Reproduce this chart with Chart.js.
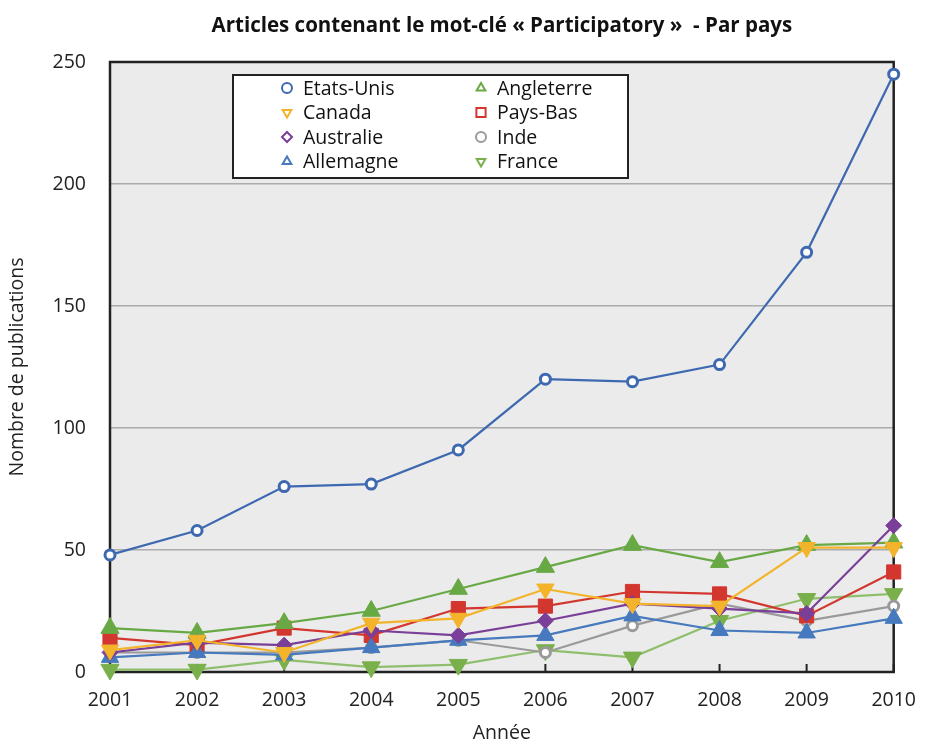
<!DOCTYPE html>
<html>
<head>
<meta charset="utf-8">
<script src="https://cdn.jsdelivr.net/npm/chart.js@4"></script>
<style>
    html, body { margin: 0; padding: 0; background: #fff; }
    #wrap { width: 925px; height: 742px; }
</style>
</head>
<body>
<div id="wrap"><canvas id="participatoryChart"></canvas></div>
<script>
'use strict'

const chartTitle = 'Articles contenant le mot-clé « Participatory »  - Par pays';
const years = ['2001', '2002', '2003', '2004', '2005', '2006', '2007', '2008', '2009', '2010'];
const yTicks = [0, 50, 100, 150, 200, 250];

const etatsUnis  = [48, 58, 76, 77, 91, 120, 119, 126, 172, 245];
const canada     = [9, 13, 8, 20, 22, 34, 28, 27, 51, 51];
const australie  = [8, 12, 11, 17, 15, 21, 28, 26, 24, 60];
const allemagne  = [6, 8, 7, 10, 13, 15, 23, 17, 16, 22];
const angleterre = [18, 16, 20, 25, 34, 43, 52, 45, 52, 53];
const paysBas    = [14, 11, 18, 15, 26, 27, 33, 32, 23, 41];
const inde       = [8, 8, 8, 10, 13, 8, 19, 28, 21, 27];
const france     = [1, 1, 5, 2, 3, 9, 6, 21, 30, 32];

const font = "'Open Sans', 'DejaVu Sans', sans-serif";

const mk = (label, data, color, style, radius, opts) => Object.assign({
    label: label,
    data: data,
    borderColor: color,
    backgroundColor: color,
    borderWidth: 2.2,
    pointStyle: style,
    pointRadius: radius,
    pointBorderWidth: 1,
    pointBackgroundColor: color,
    pointBorderColor: color,
    tension: 0,
    clip: false
}, opts || {});

const datasets = [
    mk('Etats-Unis', etatsUnis, '#3e69b0', 'circle', 5, { pointBackgroundColor: '#fff', pointBorderWidth: 3 }),
    mk('Canada', canada, '#f3b42c', 'triangle', 10, { pointRotation: 180 }),
    mk('Australie', australie, '#7a3f98', 'rectRot', 8),
    mk('Allemagne', allemagne, '#4679bd', 'triangle', 10),
    mk('Angleterre', angleterre, '#69a945', 'triangle', 10.5),
    mk('Pays-Bas', paysBas, '#d2362e', 'rect', 10),
    mk('Inde', inde, '#9a9a9a', 'circle', 5, { pointBackgroundColor: '#fff', pointBorderWidth: 3 }),
    mk('France', france, '#79b04b', 'triangle', 10.5, { pointRotation: 180, borderColor: '#8fbf6c' })
];

// background, frame, inward x ticks, title and boxed legend
const decorPlugin = {
    id: 'decor',
    beforeDraw(chart) {
        const { ctx, chartArea: a } = chart;
        ctx.save();
        ctx.fillStyle = '#ebebeb';
        ctx.fillRect(a.left, a.top, a.right - a.left, a.bottom - a.top);
        ctx.restore();
    },
    beforeDatasetsDraw(chart) {
        const { ctx, chartArea: a } = chart;
        const x = chart.scales.x;
        ctx.save();
        ctx.strokeStyle = '#222';
        ctx.lineWidth = 2.5;
        ctx.strokeRect(a.left, a.top, a.right - a.left, a.bottom - a.top);
        ctx.lineWidth = 2;
        x.ticks.forEach((t, i) => {
            const px = x.getPixelForTick(i);
            ctx.beginPath();
            ctx.moveTo(px, a.bottom);
            ctx.lineTo(px, a.bottom - 8);
            ctx.stroke();
        });
        ctx.restore();
    },
    afterDraw(chart) {
        const { ctx, chartArea: a } = chart;
        ctx.save();
        ctx.fillStyle = '#111';
        ctx.font = 'bold 20.5px ' + font;
        ctx.textAlign = 'center';
        ctx.textBaseline = 'middle';
        ctx.fillText(chartTitle, (a.left + a.right) / 2, 26);

        // legend box
        const bx = 233, by = 75, bw = 395, bh = 103;
        ctx.fillStyle = '#fff';
        ctx.fillRect(bx, by, bw, bh);
        ctx.strokeStyle = '#222';
        ctx.lineWidth = 2;
        ctx.strokeRect(bx, by, bw, bh);
        ctx.font = '19.5px ' + font;
        ctx.textAlign = 'left';
        chart.data.datasets.forEach((ds, i) => {
            const col = Math.floor(i / 4), row = i % 4;
            const mx = 287 + col * 194, my = 88 + row * 24.5;
            ctx.fillStyle = '#fff';
            ctx.strokeStyle = ds.pointBorderColor;
            ctx.lineWidth = 2;
            Chart.helpers.drawPoint(ctx, {
                pointStyle: ds.pointStyle,
                radius: ds.pointStyle === 'rect' ? 6.5 : 5,
                rotation: ds.pointRotation || 0,
                borderWidth: 2
            }, mx, my);
            ctx.fillStyle = '#111';
            ctx.fillText(ds.label, mx + 16, my + 1);
        });
        ctx.restore();
    }
};

new Chart(document.querySelector('#participatoryChart'), {
    type: 'line',
    data: { labels: years, datasets: datasets },
    options: {
        responsive: true,
        maintainAspectRatio: false,
        animation: false,
        layout: { padding: { top: 62, right: 26, left: 0, bottom: 0 } },
        plugins: {
            legend: { display: false },
            title: { display: false },
            tooltip: { enabled: false }
        },
        scales: {
            x: {
                offset: false,
                grid: { display: false },
                border: { display: false },
                ticks: { color: '#222', font: { family: font, size: 19.5 }, padding: 9, maxRotation: 0 },
                title: { display: true, text: 'Année', color: '#222', font: { family: font, size: 19.5 }, padding: { top: 0, bottom: -3 } },
                afterFit(scale) { scale.height = 70; }
            },
            y: {
                min: 0,
                max: 250,
                afterBuildTicks(scale) { scale.ticks = yTicks.map(v => ({ value: v })); },
                grid: {
                    color: ctx => (ctx.tick && (ctx.tick.value === 0 || ctx.tick.value === 250)) ? 'rgba(0,0,0,0)' : '#acacac',
                    lineWidth: 1.5,
                    drawTicks: false
                },
                border: { display: false },
                ticks: { color: '#222', font: { family: font, size: 19.5 }, padding: 24 },
                title: { display: true, text: 'Nombre de publications', color: '#222', font: { family: font, size: 19.5 }, padding: { top: 6, bottom: 0 } },
                afterFit(scale) { scale.width = 110; }
            }
        }
    },
    plugins: [decorPlugin]
});
</script>
</body>
</html>
